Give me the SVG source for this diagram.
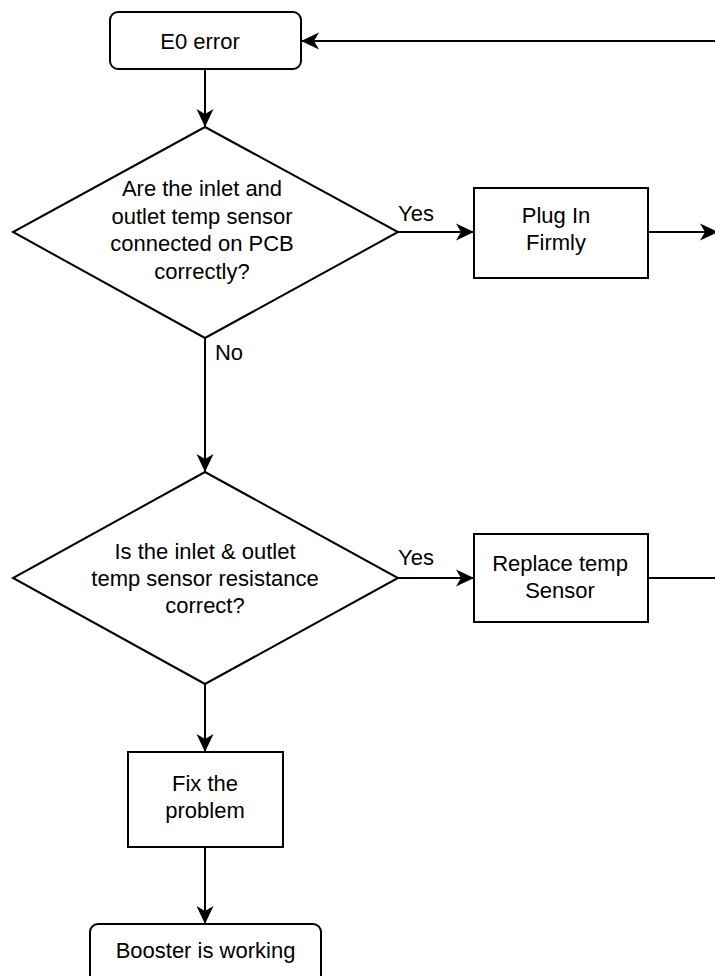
<svg xmlns="http://www.w3.org/2000/svg" width="715" height="976" viewBox="0 0 715 976">
<style>
.s{fill:#fff;stroke:#000;stroke-width:2}
.c{fill:none;stroke:#000;stroke-width:2}
text{font-family:"Liberation Sans",Arial,sans-serif;font-size:22px;fill:#000;text-anchor:middle;dominant-baseline:central}
</style>
<defs>
<marker id="a" markerWidth="18" markerHeight="18" viewBox="0 0 18 18" refX="17" refY="9" orient="auto" markerUnits="userSpaceOnUse">
<path d="M0,0.5 L18,9 L0,17.5 L5,9 Z" fill="#000"/>
</marker>
</defs>
<g id="connectors">
<path class="c" d="M715,41 H302" marker-end="url(#a)"/>
<path class="c" d="M205,69 V126" marker-end="url(#a)"/>
<path class="c" d="M398,232 H473" marker-end="url(#a)"/>
<path class="c" d="M648,232 H717" marker-end="url(#a)"/>
<path class="c" d="M205,338 V471" marker-end="url(#a)"/>
<path class="c" d="M398,578 H473" marker-end="url(#a)"/>
<path class="c" d="M648,578 H715"/>
<path class="c" d="M205,684 V751" marker-end="url(#a)"/>
<path class="c" d="M205,847 V923" marker-end="url(#a)"/>
<text x="416" y="213">Yes</text>
<text x="229" y="352">No</text>
<text x="416" y="557">Yes</text>
</g>
<g id="e0">
<rect class="s" x="110" y="12" width="191" height="57" rx="8"/>
<text x="200" y="41">E0 error</text>
</g>
<g id="d1">
<polygon class="s" points="205,127 398,232 205,338 13,232"/>
<text x="202" y="188">Are the inlet and</text>
<text x="202" y="216">outlet temp sensor</text>
<text x="202" y="243">connected on PCB</text>
<text x="202" y="271">correctly?</text>
</g>
<g id="plug">
<rect class="s" x="474" y="188" width="174" height="90"/>
<text x="556" y="215">Plug In</text>
<text x="556" y="242">Firmly</text>
</g>
<g id="d2">
<polygon class="s" points="205,472 398,578 205,684 13,578"/>
<text x="205" y="551">Is the inlet &amp; outlet</text>
<text x="205" y="578">temp sensor resistance</text>
<text x="205" y="605">correct?</text>
</g>
<g id="replace">
<rect class="s" x="474" y="534" width="174" height="88"/>
<text x="560" y="563">Replace temp</text>
<text x="560" y="590">Sensor</text>
</g>
<g id="fix">
<rect class="s" x="128" y="752" width="155" height="95"/>
<text x="205" y="783">Fix the</text>
<text x="205" y="810">problem</text>
</g>
<g id="booster">
<rect class="s" x="90" y="924" width="231" height="70" rx="8"/>
<text x="205.5" y="950">Booster is working</text>
</g>
</svg>
